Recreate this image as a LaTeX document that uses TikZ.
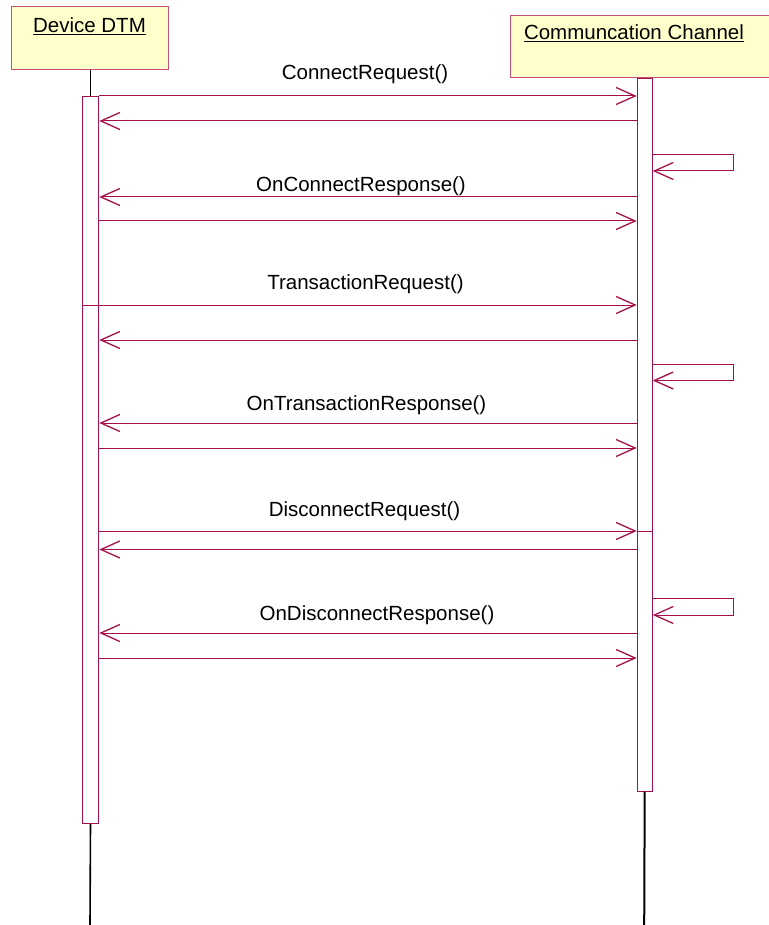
\documentclass[tikz,border=0pt]{standalone}
\usepackage{fontspec}
\setmainfont{Liberation Sans}
\usetikzlibrary{arrows.meta}
\definecolor{msgc}{HTML}{A3104A}
\definecolor{boxline}{HTML}{C4507A}
\definecolor{boxfill}{HTML}{FFFFCC}
\begin{document}
\begin{tikzpicture}[x=1pt,y=-1pt,
  lbl/.style={font=\fontsize{20.5}{24}\selectfont, anchor=base, inner sep=0pt},
  objbox/.style={draw=boxline, fill=boxfill, line width=1pt, anchor=north west, inner sep=0pt},
  actbar/.style={draw=msgc, fill=white, line width=1pt, anchor=north west, inner sep=0pt},
  lifeline/.style={draw=black, line width=1.6pt},
  msg/.style={draw=msgc, line width=1pt, -{Straight Barb[length=19pt,width=17pt,line width=1.3pt]}},
  plainmsg/.style={draw=msgc, line width=1pt}
]
\useasboundingbox (0,0) rectangle (768,925);

% object boxes
\node[objbox, minimum width=157pt, minimum height=63pt] (dtm) at (11,6) {};
\node[objbox, minimum width=262pt, minimum height=62pt] (chan) at (510,15) {};
\node[lbl] (dtmtitle) at (89.5,33) {\underline{Device DTM}};
\node[lbl] (chantitle) at (634,40) {\underline{Communcation Channel}};

% activation bars
\node[actbar, minimum width=16.6pt, minimum height=727pt] (actL) at (81.7,96) {};
\node[actbar, minimum width=15pt, minimum height=712.7pt] (actR) at (636.7,78) {};

% lifelines
\coordinate (endL) at (90,925);
\coordinate (endR) at (644.2,925);
\draw[lifeline] (dtm.south -| actL.center) -- (actL.north);
\draw[lifeline] (actL.south) -- (endL);
\draw[lifeline] (chan.south -| actR.center) -- (actR.north);
\draw[lifeline, line width=2pt] (actR.south) -- (endR);

% connect
\draw[msg] (actL.east |- 0,96) -- (actR.west |- 0,96);
\node[lbl] (l1) at (365,80) {ConnectRequest()};
\draw[msg] (actR.west |- 0,121) -- (actL.east |- 0,121);
\draw[msg] (actR.east |- 0,155) -- ++(81,0) -- ++(0,16) -- (actR.east |- 0,171);
\draw[msg] (actR.west |- 0,197) -- (actL.east |- 0,197);
\node[lbl] (l2) at (361,192) {OnConnectResponse()};
\draw[msg] (actL.east |- 0,221) -- (actR.west |- 0,221);

% transaction
\draw[msg] (actL.west |- 0,305) -- (actR.west |- 0,305);
\node[lbl] (l3) at (365.5,289) {TransactionRequest()};
\draw[msg] (actR.west |- 0,340) -- (actL.east |- 0,340);
\draw[msg] (actR.east |- 0,364.5) -- ++(81,0) -- ++(0,16) -- (actR.east |- 0,380.5);
\draw[msg] (actR.west |- 0,423) -- (actL.east |- 0,423);
\node[lbl] (l4) at (366.5,410) {OnTransactionResponse()};
\draw[msg] (actL.east |- 0,448) -- (actR.west |- 0,448);

% disconnect
\draw[msg] (actL.east |- 0,531) -- (actR.west |- 0,531);
\draw[plainmsg] (actR.west |- 0,531) -- (actR.east |- 0,531);
\node[lbl] (l5) at (364.5,516) {DisconnectRequest()};
\draw[msg] (actR.west |- 0,549.5) -- (actL.east |- 0,549.5);
\draw[msg] (actR.east |- 0,598.5) -- ++(81,0) -- ++(0,16.5) -- (actR.east |- 0,615);
\draw[msg] (actR.west |- 0,633) -- (actL.east |- 0,633);
\node[lbl] (l6) at (377,620) {OnDisconnectResponse()};
\draw[msg] (actL.east |- 0,658) -- (actR.west |- 0,658);
\end{tikzpicture}
\end{document}
